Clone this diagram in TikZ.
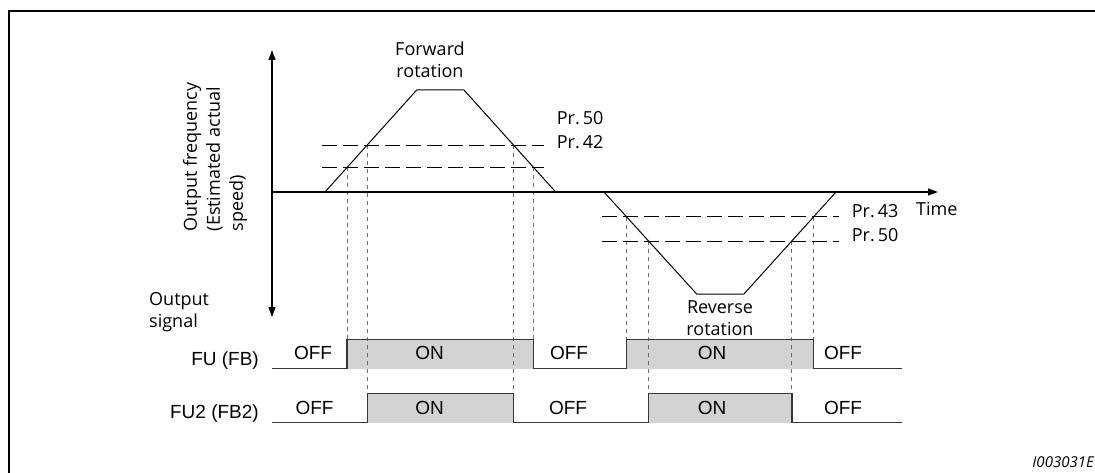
\documentclass[tikz,border=0pt]{standalone}
\usepackage{fontspec}
\setmainfont{Open Sans}
\newfontfamily\arialf{Liberation Sans}
\usetikzlibrary{arrows.meta}
\definecolor{onfill}{RGB}{211,211,213}
\definecolor{sigline}{RGB}{55,55,55}
\definecolor{vdcol}{RGB}{110,110,110}
\tikzset{
  axisline/.style={line width=1.2pt},
  curve/.style={line width=1pt},
  thresh/.style={line width=0.9pt, dash pattern=on 15pt off 6pt},
  vdash/.style={line width=0.9pt, vdcol, dash pattern=on 4pt off 4pt},
  sig/.style={line width=1.5pt, sigline},
  onbox/.style={fill=onfill},
  lbl/.style={font=\fontsize{18}{22}\selectfont, inner sep=0pt},
  sigtxt/.style={font=\arialf\fontsize{19}{22}\selectfont, inner sep=0pt},
  frame/.style={line width=2pt}
}
\begin{document}
\begin{tikzpicture}[x=1pt,y=-1pt,>={Triangle[length=10pt,width=7pt]}]
\useasboundingbox (0,0) rectangle (1095,473);
% frame
\coordinate (frtr) at (1095,11);
\coordinate (frtl) at (9,11);
\coordinate (frbl) at (9,473);
\draw[frame] (frtr) -- (frtl) -- (frbl);

% key levels
\coordinate (zero) at (272,192);
\coordinate (fuhi) at (0,339.5);
\coordinate (fulo) at (0,368.5);
\coordinate (fu2hi) at (0,393.5);
\coordinate (fu2lo) at (0,422.5);

% crossings
\coordinate (f1) at (347.2,167.3);
\coordinate (f2) at (367.3,145);
\coordinate (f3) at (513.4,145);
\coordinate (f4) at (533.5,167.3);
\coordinate (r1) at (626.4,216.7);
\coordinate (r2) at (648.5,241);
\coordinate (r3) at (791.8,241);
\coordinate (r4) at (813.7,216.7);

% gray ON areas
\fill[onbox] (f1 |- fuhi) rectangle (f4 |- fulo);
\fill[onbox] (r1 |- fuhi) rectangle (r4 |- fulo);
\fill[onbox] (f2 |- fu2hi) rectangle (f3 |- fu2lo);
\fill[onbox] (r2 |- fu2hi) rectangle (r3 |- fu2lo);

% vertical dashed lines
\draw[vdash] (f1) -- (f1 |- fuhi);
\draw[vdash] (f4) -- (f4 |- fuhi);
\draw[vdash] (r1) -- (r1 |- fuhi);
\draw[vdash] (r4) -- (r4 |- fuhi);
\draw[vdash] (f2) -- (f2 |- fu2hi);
\draw[vdash] (f3) -- (f3 |- fu2hi);
\draw[vdash] (r2) -- (r2 |- fu2hi);
\draw[vdash] (r3) -- (r3 |- fu2hi);

% threshold lines
\draw[thresh] (322,145) -- (544,145);
\draw[thresh] (322,167.3) -- (544,167.3);
\draw[thresh] (602,216.7) -- (839,216.7);
\draw[thresh] (602,241) -- (839,241);

% axes
\coordinate (ytop) at (272,50);
\coordinate (ybot) at (272,317);
\coordinate (xend) at (938,192);
\draw[axisline, <->] (ybot) -- (ytop);
\draw[axisline, ->] (zero) -- (xend);

% speed curve
\draw[curve] (325,192) -- (416.7,90) -- (464,90) -- (555.7,192);
\draw[curve] (604,192) -- (696.7,294) -- (744,294) -- (836,192);

% signals
\coordinate (sigstart) at (272,0);
\coordinate (sigend) at (902,0);
\draw[sig] (sigstart |- fulo) -- (f1 |- fulo) -- (f1 |- fuhi) -- (f4 |- fuhi) -- (f4 |- fulo)
  -- (r1 |- fulo) -- (r1 |- fuhi) -- (r4 |- fuhi) -- (r4 |- fulo) -- (sigend |- fulo);
\draw[sig] (sigstart |- fu2lo) -- (f2 |- fu2lo) -- (f2 |- fu2hi) -- (f3 |- fu2hi) -- (f3 |- fu2lo)
  -- (r2 |- fu2lo) -- (r2 |- fu2hi) -- (r3 |- fu2hi) -- (r3 |- fu2lo) -- (sigend |- fu2lo);

% labels
\node[lbl, rotate=90, align=left, anchor=north west, font=\fontsize{18}{23}\selectfont] (ylab) at (183,231.5)
  {Output frequency\\(Estimated actual\\speed)};
\node[lbl, align=center, anchor=north] (fwd) at (430,41.5) {Forward\\rotation};
\node[lbl, align=center, anchor=north] (rev) at (720,300) {Reverse\\rotation};
\node[lbl, anchor=base west] (p50a) at (556.7,125) {Pr.\,50};
\node[lbl, anchor=base west] (p42) at (556.7,149) {Pr.\,42};
\node[lbl, anchor=base west] (p43) at (851.7,217.3) {Pr.\,43};
\node[lbl, anchor=base west] (p50b) at (851.7,241.5) {Pr.\,50};
\node[lbl, anchor=base west] (time) at (916,216) {Time};
\node[lbl, align=left, anchor=north west] (outsig) at (149,292.5) {Output\\signal};
\node[lbl, anchor=base east, font=\itshape\fontsize{15}{18}\selectfont] (code) at (1094,467.7) {I003031E};

\node[sigtxt, anchor=base east] (fu) at (259,365) {FU (FB)};
\node[sigtxt, anchor=base east] (fu2) at (259,418.3) {FU2 (FB2)};
\node[sigtxt, anchor=base] (o1) at (313,359.5) {OFF};
\node[sigtxt, anchor=base] (n1) at (429.5,359.5) {ON};
\node[sigtxt, anchor=base] (o2) at (569,359.5) {OFF};
\node[sigtxt, anchor=base] (n2) at (712,359.5) {ON};
\node[sigtxt, anchor=base] (o3) at (843,359.5) {OFF};
\node[sigtxt, anchor=base] (o4) at (314.5,414) {OFF};
\node[sigtxt, anchor=base] (n3) at (429.5,414) {ON};
\node[sigtxt, anchor=base] (o5) at (568,414) {OFF};
\node[sigtxt, anchor=base] (n4) at (712,414) {ON};
\node[sigtxt, anchor=base] (o6) at (843,414) {OFF};
\end{tikzpicture}
\end{document}
